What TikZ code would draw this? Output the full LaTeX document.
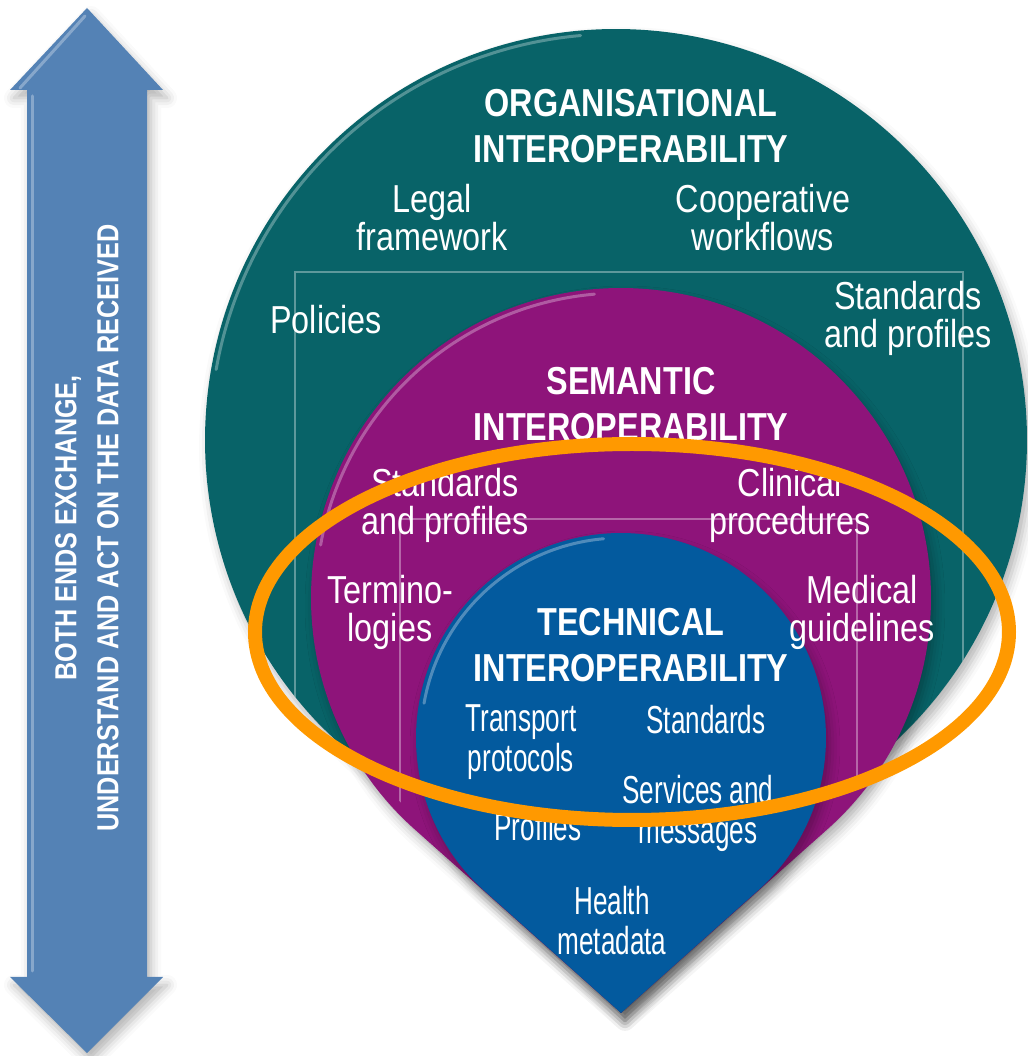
\documentclass[tikz,border=0pt]{standalone}
\usepackage{fontspec}
\setmainfont{Liberation Sans}[FakeStretch=0.83]
\newfontfamily\narrowfont{Liberation Sans}[FakeStretch=0.67]
\usetikzlibrary{shadows.blur}
\definecolor{orgteal}{RGB}{8,99,104}
\definecolor{semmagenta}{RGB}{142,20,122}
\definecolor{techblue}{RGB}{3,90,158}
\definecolor{arrowblue}{RGB}{84,130,181}
\definecolor{ringorange}{RGB}{255,153,0}

\begin{document}
\begin{tikzpicture}[x=0.5pt,y=0.5pt]

%
% Styles
%
\tikzstyle{ringtitle} = [text=white,align=center,inner sep=0pt,font=\fontsize{19.5}{23}\selectfont\bfseries]
\tikzstyle{itemtext}  = [text=white,align=center,inner sep=0pt,font=\fontsize{19.5}{19}\selectfont]
\tikzstyle{techtext}  = [text=white,align=center,inner sep=0pt,font=\narrowfont\fontsize{19.5}{20}\selectfont]
\tikzstyle{arrowtext} = [text=white,align=center,inner sep=0pt,rotate=90,font=\fontsize{15.2}{21}\selectfont\bfseries]
\tikzstyle{gridline}  = [draw=white,opacity=0.35,line width=0.7pt]
\tikzstyle{gloss}     = [draw=white,opacity=0.3,line width=1.5pt,line cap=round]
\tikzstyle{softshadow} = [blur shadow={shadow xshift=2pt,shadow yshift=-4pt,shadow blur radius=5pt,shadow opacity=30}]
\tikzstyle{ring}      = [draw=ringorange,line width=7pt]

\useasboundingbox (0,0) rectangle (1028,1056);

% double arrow
\fill[arrowblue,softshadow] (87,1048) -- (163,966) -- (147,966) -- (147,79) -- (163,79)
  -- (87,3) -- (10,79) -- (27,79) -- (27,966) -- (10,966) -- cycle;
\draw[gloss] (32,960) -- (32,85);
\draw[gloss] (20,968) -- (85,1040);

% drops
\fill[orgteal,softshadow] (616,616) ++(-44.2:411) arc[start angle=-44.2,end angle=224.2,radius=411] -- (621,43) -- cycle;
\fill[semmagenta,softshadow] (621,458) ++(-48.3:310) arc[start angle=-48.3,end angle=228.3,radius=310] -- (621,43) -- cycle;
\fill[techblue,softshadow] (621,318) ++(-48.2:205) arc[start angle=-48.2,end angle=228.2,radius=205] -- (621,43) -- cycle;

\draw[gloss] (616,616) ++(95:406) arc[start angle=95,end angle=170,radius=406];
\draw[gloss] (621,458) ++(95:305) arc[start angle=95,end angle=170,radius=305];
\draw[gloss] (621,318) ++(95:200) arc[start angle=95,end angle=170,radius=200];

% frames
\begin{scope}
\clip (616,616) ++(-44.2:411) arc[start angle=-44.2,end angle=224.2,radius=411] -- (621,43) -- cycle;
\draw[gridline] (295,0) -- (295,784) -- (963,784) -- (963,0);
\draw[gridline] (400,0) -- (400,537) -- (857,537) -- (857,0);
\end{scope}

% organisational
\node[ringtitle] (orgtitle) at (631,930) {ORGANISATIONAL\\INTEROPERABILITY};
\node[itemtext] (legal)    at (432,838) {Legal\\framework};
\node[itemtext] (coop)     at (763,838) {Cooperative\\workflows};
\node[itemtext] (policies) at (326,736) {Policies};
\node[itemtext] (orgstd)   at (908,738) {Standards\\and profiles};

% semantic
\node[ringtitle] (semtitle) at (631,652) {SEMANTIC\\INTEROPERABILITY};
\node[itemtext] (semstd)   at (445,551) {Standards\\and profiles};
\node[itemtext] (clinical) at (790,551) {Clinical\\procedures};
\node[itemtext] (termino)  at (390,444) {Termino-\\logies};
\node[itemtext] (medical)  at (862,444) {Medical\\guidelines};

% technical
\node[ringtitle] (techtitle) at (631,411) {TECHNICAL\\INTEROPERABILITY};
\node[techtext] (transport) at (521,314) {Transport\\protocols};
\node[techtext] (techstd)   at (706,336) {Standards};
\node[techtext] (services)  at (698,243) {Services and\\messages};
\node[techtext] (profiles)  at (538,229) {Profiles};
\node[techtext] (health)    at (612,135) {Health\\metadata};

\node[arrowtext] (arrowlabel) at (87,528) {BOTH ENDS EXCHANGE,\\UNDERSTAND AND ACT ON THE DATA RECEIVED};

% highlight
\draw[ring] (632,424) ellipse[x radius=377,y radius=188];

\end{tikzpicture}
\end{document}
